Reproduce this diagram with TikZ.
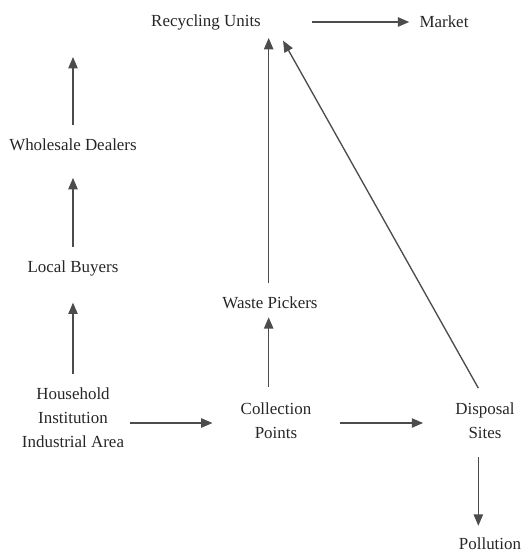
\documentclass[tikz,border=0pt]{standalone}
\usepackage{fontspec}
\setmainfont{Liberation Serif}
\usetikzlibrary{arrows.meta}

\begin{document}
\begin{tikzpicture}[x=0.75pt,y=-0.75pt,
  font=\fontsize{12.7}{18}\selectfont,
  every node/.style={inner sep=0pt, text=black!85, align=center},
  arr/.style={draw=black!70, line width=1pt, -{Triangle[length=8.5pt,width=7pt]}}]

\useasboundingbox (0,0) rectangle (527,553);

% stages of the flow
\node (recyc) at (206,22) {Recycling Units};
\node (market) at (444,22) {Market};
\node (whole) at (73,145) {Wholesale Dealers};
\node (local) at (73,268) {Local Buyers};
\node (waste) at (270,303) {Waste Pickers};
\node (hh) at (73,418) {Household\\Institution\\Industrial Area};
\node (coll) at (276,421) {Collection\\Points};
\node (disp) at (485,421) {Disposal\\Sites};
\node (poll) at (490,544) {Pollution};
\coordinate (top) at (73,57);

% left column
\draw[arr, shorten <=10pt] (whole.north) -- (top);
\draw[arr, shorten <=10pt, shorten >=20pt] (local.north) -- (whole.south);
\draw[arr, shorten <=10pt, shorten >=20pt] (hh.north) -- (local.south);

% bottom row
\draw[arr, shorten <=4pt, shorten >=21pt] (hh.east |- 0,423) -- (coll.west |- 0,423);
\draw[arr, shorten <=21pt, shorten >=24pt] (coll.east |- 0,423) -- (disp.west |- 0,423);
\draw[arr, shorten <=13pt, shorten >=9pt] ([xshift=-5pt]disp.south) -- ([xshift=-5pt]disp.south |- poll.north);

% up to the recycling units
\draw[arr, shorten <=12pt, shorten >=6pt] ([xshift=-1pt]waste.south |- coll.north) -- ([xshift=-1pt]waste.south);
\draw[arr, shorten <=10pt, shorten >=6pt] ([xshift=-1pt]waste.north) -- ([xshift=-1pt]waste.north |- recyc.south);
\draw[arr] ([xshift=-5pt,yshift=11pt]disp.north) -- ([xshift=16.5pt,yshift=-8pt]recyc.south east);
\draw[arr, shorten <=38pt, shorten >=7.5pt] (recyc.east) -- (market.west);

\end{tikzpicture}
\end{document}
